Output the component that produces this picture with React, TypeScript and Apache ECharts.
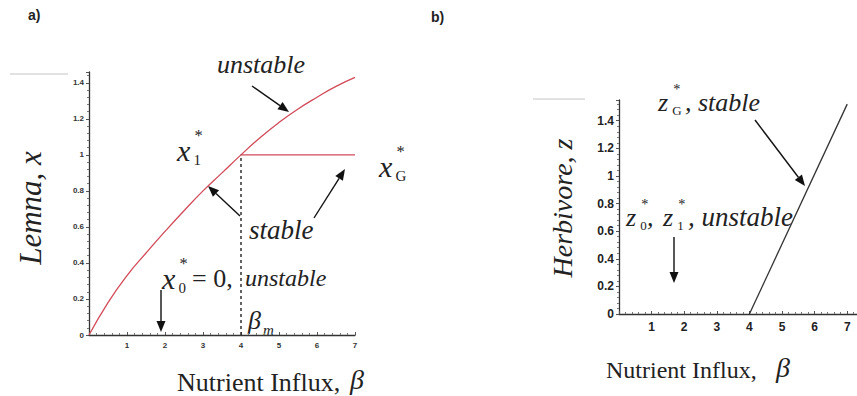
import React, { useEffect, useRef } from "react";
import * as echarts from "echarts";

// Panel a: Lemna equilibria
const betaA = [0, 0.5, 1, 1.5, 2, 2.5, 3, 3.5, 4, 4.5, 5, 5.5, 6, 6.5, 7];
const lemnaX1 = [0, 0.18, 0.33, 0.455, 0.575, 0.69, 0.8, 0.9, 1.0, 1.095, 1.18, 1.255, 1.32, 1.38, 1.43];
const betaG = [4, 7];
const lemnaXG = [1, 1];
const betaM = 4;
const betaMLevel = [0, 1];

// Panel b: Herbivore equilibrium
const betaZ = [4, 7];
const herbZG = [0, 1.52];

const SERIF = "'Liberation Serif', 'DejaVu Serif', serif";
const SANS = "'Liberation Sans', Arial, sans-serif";

function arrow(x1: number, y1: number, x2: number, y2: number) {
  const ang = Math.atan2(y2 - y1, x2 - x1);
  const L = 11, W = 4.5;
  const bx = x2 - L * Math.cos(ang), by = y2 - L * Math.sin(ang);
  const px = -Math.sin(ang) * W, py = Math.cos(ang) * W;
  return {
    type: "group",
    children: [
      { type: "line", shape: { x1, y1, x2: bx, y2: by }, style: { stroke: "#111", lineWidth: 1.4 } },
      {
        type: "polygon",
        shape: { points: [[x2, y2], [bx + px, by + py], [bx - px, by - py]] },
        style: { fill: "#111" },
      },
    ],
  };
}

function txt(x: number, y: number, text: string, size: number, opts: any = {}) {
  return {
    type: "text",
    x,
    y,
    rotation: opts.rotation || 0,
    style: {
      text,
      font: `${opts.italic === false ? "normal" : "italic"} ${opts.bold ? "bold" : "normal"} ${size}px ${opts.family || SERIF}`,
      fill: opts.fill || "#222",
      align: opts.align || "left",
      verticalAlign: opts.va || "middle",
    },
  };
}

// symbol with upright subscript and a star above it
function sym(x: number, y: number, base: string, sub: string, size: number) {
  const w = size * 0.55;
  return [
    txt(x, y, base, size),
    txt(x + w, y + size * 0.32, sub, size * 0.5, { italic: false }),
    txt(x + w + 1, y - size * 0.5, "*", size * 0.55, { italic: false }),
  ];
}

export default function App() {
  const ref = useRef<HTMLDivElement>(null);
  useEffect(() => {
    document.body.style.margin = "0";
    const chart = echarts.init(ref.current!, null, { renderer: "svg" });
    const axisCommon = {
      type: "value",
      axisLine: { show: true, lineStyle: { color: "#333", width: 1.3 } },
      splitLine: { show: false },
      minorSplitLine: { show: false },
    };
    const smallLabel = { fontSize: 8, fontWeight: "bold", color: "#333", fontFamily: SANS };
    const bigLabel = { fontSize: 12, fontWeight: "bold", color: "#222", fontFamily: SANS };

    const graphics: any[] = [
      // faint scan lines
      { type: "line", shape: { x1: 10, y1: 74, x2: 68, y2: 74 }, style: { stroke: "#d8d8d8", lineWidth: 1.5 } },
      { type: "line", shape: { x1: 533, y1: 99, x2: 585, y2: 99 }, style: { stroke: "#d8d8d8", lineWidth: 1.5 } },
      txt(28, 15, "a)", 14, { italic: false, bold: true, family: SANS }),
      txt(431, 17, "b)", 14, { italic: false, bold: true, family: SANS }),
      // panel a
      txt(217, 64, "unstable", 26),
      arrow(252, 86, 289, 112),
      ...sym(177, 150, "x", "1", 30),
      ...sym(379, 166, "x", "G", 30),
      txt(249, 230, "stable", 27),
      arrow(240, 216, 208, 186),
      arrow(314, 218, 345, 169),
      ...sym(162, 278, "x", "0", 30),
      txt(192, 278, "= 0,", 26, { italic: false }),
      txt(245, 278, "unstable", 24),
      arrow(161, 290, 161, 332),
      txt(248, 320, "\u03b2", 26),
      txt(263, 330, "m", 15),
      txt(177, 382, "Nutrient Influx,", 26, { italic: false }),
      txt(350, 379, "\u03b2", 28),
      txt(30, 208, "Lemna, x", 31, { rotation: Math.PI / 2, align: "center" }),
      // panel b
      ...sym(658, 102, "z", "G", 26),
      txt(685, 102, ", stable", 26),
      arrow(755, 120, 805, 186),
      ...sym(626, 217, "z", "0", 26),
      txt(647, 217, ",", 26),
      ...sym(663, 217, "z", "1", 26),
      txt(688, 217, ", unstable", 27),
      arrow(674, 237, 674, 283),
      txt(606, 370, "Nutrient Influx,", 24, { italic: false }),
      txt(776, 367, "\u03b2", 28),
      txt(562, 208, "Herbivore, z", 28, { rotation: Math.PI / 2, align: "center" }),
    ];

    chart.setOption({
      animation: false,
      backgroundColor: "#fff",
      grid: [
        { left: 89, top: 72, width: 266, height: 263 },
        { left: 619, top: 100, width: 250, height: 214 },
      ],
      xAxis: [
        {
          ...axisCommon,
          gridIndex: 0,
          min: 0,
          max: 7,
          interval: 1,
          axisTick: { show: true, inside: true, length: 3, lineStyle: { color: "#555" } },
          minorTick: { show: true, splitNumber: 5, length: 2, lineStyle: { color: "#777" } },
          axisLabel: { ...smallLabel, showMinLabel: false, margin: 6 },
        },
        {
          ...axisCommon,
          gridIndex: 1,
          min: 0,
          max: 7.3,
          interval: 1,
          axisTick: { show: true, inside: true, length: 3, lineStyle: { color: "#555" } },
          minorTick: { show: true, splitNumber: 5, length: 2, lineStyle: { color: "#777" } },
          axisLabel: { ...bigLabel, showMinLabel: false, showMaxLabel: false, margin: 7 },
        },
      ],
      yAxis: [
        {
          ...axisCommon,
          gridIndex: 0,
          min: 0,
          max: 1.46,
          interval: 0.2,
          axisTick: { show: true, length: 3, lineStyle: { color: "#555" } },
          minorTick: { show: true, splitNumber: 5, length: 2, lineStyle: { color: "#777" } },
          axisLabel: { ...smallLabel, showMaxLabel: false, margin: 5 },
        },
        {
          ...axisCommon,
          gridIndex: 1,
          min: 0,
          max: 1.55,
          interval: 0.2,
          axisTick: { show: true, length: 3, lineStyle: { color: "#555" } },
          minorTick: { show: true, splitNumber: 5, length: 2, lineStyle: { color: "#777" } },
          axisLabel: { ...bigLabel, showMaxLabel: false, margin: 5 },
        },
      ],
      series: [
        {
          type: "line",
          xAxisIndex: 0,
          yAxisIndex: 0,
          smooth: true,
          symbol: "none",
          data: betaA.map((b, i) => [b, lemnaX1[i]]),
          lineStyle: { color: "#d24a5a", width: 1.3 },
        },
        {
          type: "line",
          xAxisIndex: 0,
          yAxisIndex: 0,
          symbol: "none",
          data: betaG.map((b, i) => [b, lemnaXG[i]]),
          lineStyle: { color: "#d24a5a", width: 1.3 },
        },
        {
          type: "line",
          xAxisIndex: 0,
          yAxisIndex: 0,
          symbol: "none",
          data: betaMLevel.map((v) => [betaM, v]),
          lineStyle: { color: "#222", width: 1.4, type: [3, 3] },
        },
        {
          type: "line",
          xAxisIndex: 1,
          yAxisIndex: 1,
          symbol: "none",
          data: betaZ.map((b, i) => [b, herbZG[i]]),
          lineStyle: { color: "#333", width: 1.3 },
        },
      ],
      graphic: graphics,
    });
    return () => chart.dispose();
  }, []);
  return <div ref={ref} style={{ width: 857, height: 396 }} />;
}
